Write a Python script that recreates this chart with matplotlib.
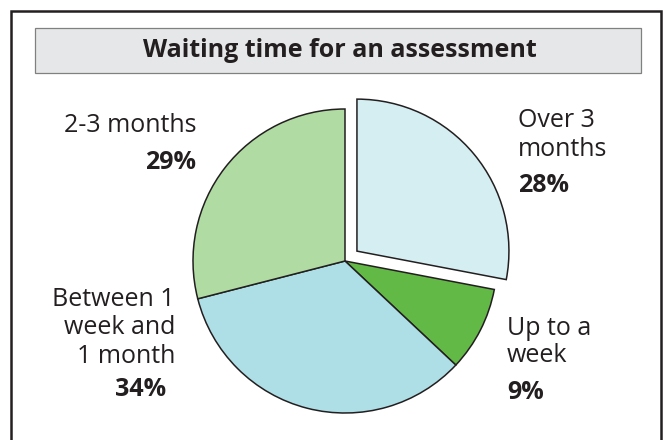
import matplotlib.pyplot as plt
from matplotlib.patches import Rectangle

# data, clockwise from 12 o'clock
labels = ["Over 3\nmonths", "Up to a\nweek", "Between 1\nweek and\n1 month", "2-3 months"]
values = [28, 9, 34, 29]
colors = ["#d5eef2", "#63b946", "#aedfe6", "#b0dca3"]
explode = [15.5, 0, 0, 0]   # pie() takes this in data units

plt.rcParams['font.family'] = ['Open Sans', 'DejaVu Sans']
ink = "#231f20"
H = 440

fig = plt.figure(figsize=(6.72, 4.40), dpi=100)
ax = fig.add_axes([0, 0, 1, 1])

# outer frame and title box
ax.add_patch(Rectangle((11, -10), 650, H - 11 + 10, fill=False, edgecolor=ink, lw=1.8))
ax.add_patch(Rectangle((35, H - 73), 606, 45, facecolor="#e6e7e8", edgecolor="#808080", lw=0.9))
ax.text(340, H - 50, "Waiting time for an assessment", ha='center', va='center',
        fontsize=18, fontweight='bold', color=ink)

ax.pie(values, colors=colors, explode=explode, startangle=90, counterclock=False,
       center=(345, H - 261), radius=152,
       wedgeprops=dict(edgecolor=ink, linewidth=1.1))
ax.set_xlim(0, 672)
ax.set_ylim(0, H)
ax.set_aspect('equal')
ax.axis('off')

fs = 18

def put_label(text, pct, x, baselines, pct_x, pct_base, ha):
    for line, b in zip(text.split("\n"), baselines):
        ax.text(x, H - b, line, ha=ha, va='baseline', fontsize=fs, color=ink)
    ax.text(pct_x, H - pct_base, f"{pct}%", ha=ha, va='baseline', fontsize=fs,
            fontweight='bold', color=ink)

put_label(labels[0], values[0], 518, [127, 156], 518, 192, 'left')
put_label(labels[1], values[1], 507, [335, 362], 507, 399, 'left')
put_label(labels[2], values[2], 175, [306, 334, 363], 166, 396, 'right')
put_label(labels[3], values[3], 196, [132], 196, 169, 'right')

fig.savefig("out.png", dpi=100)
